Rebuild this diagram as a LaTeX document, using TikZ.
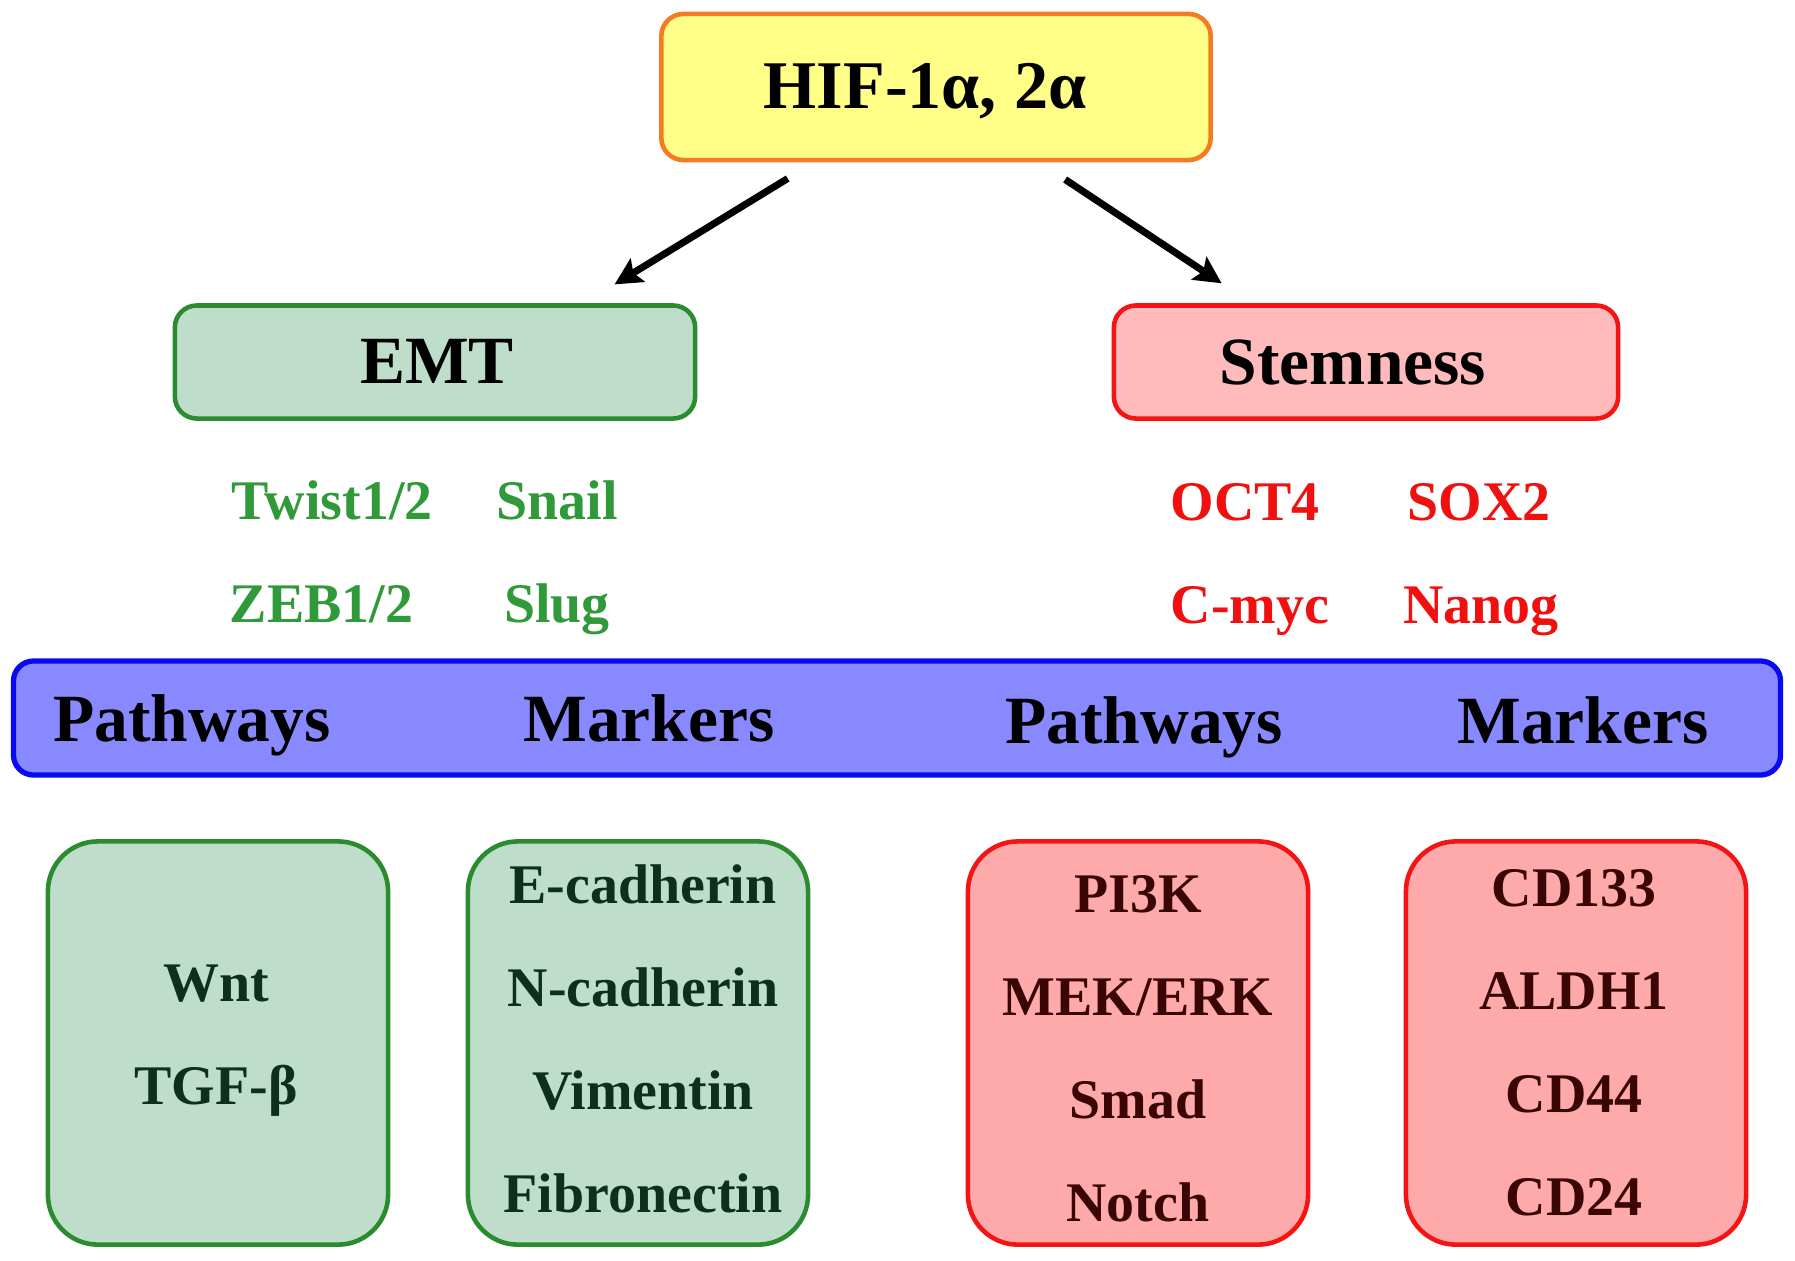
\documentclass[tikz,border=0pt]{standalone}
\usepackage{fontspec}
\setmainfont{Liberation Serif}
\usetikzlibrary{arrows.meta}
\definecolor{hiffill}{HTML}{FFFF88}
\definecolor{hifdraw}{HTML}{F57A22}
\definecolor{gfill}{HTML}{BFDDCB}
\definecolor{gdraw}{HTML}{2A8C2E}
\definecolor{gtext}{HTML}{309A3A}
\definecolor{gdark}{HTML}{0E2E1E}
\definecolor{sfill}{HTML}{FFBBBB}
\definecolor{rfill}{HTML}{FFAAAA}
\definecolor{rdraw}{HTML}{F41414}
\definecolor{rtext}{HTML}{F01010}
\definecolor{rdark}{HTML}{3A0505}
\definecolor{bfill}{HTML}{8888FF}
\definecolor{bdraw}{HTML}{0A0AF0}
\tikzset{
  box/.style={rounded corners=0.22cm, line width=1.3pt, inner sep=0pt},
  bigtxt/.style={font=\fontsize{19.2}{22}\selectfont\bfseries, anchor=base, inner sep=0pt},
  smalltxt/.style={font=\fontsize{15.9}{19}\selectfont\bfseries, anchor=base, inner sep=0pt},
  lowbox/.style={rounded corners=0.5cm, line width=1.3pt, minimum width=3.4cm, minimum height=4.03cm, inner sep=0pt},
  arr/.style={line width=2pt, -{Stealth[length=0.27cm, width=0.27cm, inset=0.05cm]}, shorten <=0.31cm, shorten >=0.36cm}
}
\begin{document}
\begin{tikzpicture}[x=0.01cm, y=-0.01cm]
\useasboundingbox (0,0) rectangle (1795,1260);
% top
\node[box, fill=hiffill, draw=hifdraw, minimum width=5.49cm, minimum height=1.46cm] (hif) at (936,87) {};
\node[bigtxt, font=\fontsize{19.4}{22}\selectfont\bfseries] (hiftxt) at (925,108) {HIF-1α, 2α};
% second level
\node[box, fill=gfill, draw=gdraw, minimum width=5.2cm, minimum height=1.13cm] (emt) at (435,362) {};
\node[bigtxt] (emttxt) at (437,383) {EMT};
\node[box, fill=sfill, draw=rdraw, minimum width=5.04cm, minimum height=1.13cm] (stem) at (1366,362) {};
\node[bigtxt] (stemtxt) at (1353,384) {Stemness};
% arrows
\draw[arr] ([xshift=1.55cm]hif.south west) -- ([xshift=4.11cm]emt.north west);
\draw[arr] ([xshift=3.80cm]hif.south west) -- ([xshift=1.40cm]stem.north west);
% transcription factors
\node[smalltxt, anchor=base west, text=gtext] (twist) at (231,519) {Twist1/2};
\node[smalltxt, text=gtext] (snail) at (557,519) {Snail};
\node[smalltxt, anchor=base west, text=gtext] (zeb) at (229,622) {ZEB1/2};
\node[smalltxt, text=gtext] (slug) at (557,622) {Slug};
\node[smalltxt, anchor=base west, text=rtext] (oct) at (1170,520) {OCT4};
\node[smalltxt, text=rtext] (sox) at (1479,520) {SOX2};
\node[smalltxt, anchor=base west, text=rtext] (myc) at (1170,623) {C-myc};
\node[smalltxt, text=rtext] (nanog) at (1481,623) {Nanog};
% bar
\node[box, rounded corners=0.2cm, fill=bfill, draw=bdraw, line width=1.5pt, minimum width=17.66cm, minimum height=1.14cm] (bar) at (897,718) {};
\node[bigtxt] (p1) at (192,741) {Pathways};
\node[bigtxt] (m1) at (649,741) {Markers};
\node[bigtxt] (p2) at (1144,743) {Pathways};
\node[bigtxt] (m2) at (1583,743) {Markers};
% bottom boxes
\node[lowbox, fill=gfill, draw=gdraw] (gb1) at (218,1043) {};
\node[lowbox, fill=gfill, draw=gdraw] (gb2) at (638,1043) {};
\node[lowbox, fill=rfill, draw=rdraw] (rb1) at (1138,1043) {};
\node[lowbox, fill=rfill, draw=rdraw] (rb2) at (1576,1043) {};
\node[smalltxt, text=gdark] (wnt) at (216,1001) {Wnt};
\node[smalltxt, text=gdark] (tgf) at (216,1104) {TGF-β};
\node[smalltxt, text=gdark] (ecad) at (643,903) {E-cadherin};
\node[smalltxt, text=gdark] (ncad) at (643,1006) {N-cadherin};
\node[smalltxt, text=gdark] (vim) at (643,1109) {Vimentin};
\node[smalltxt, text=gdark] (fib) at (643,1212) {Fibronectin};
\node[smalltxt, text=rdark] (pi3k) at (1138,912) {PI3K};
\node[smalltxt, text=rdark] (mek) at (1138,1015) {MEK/ERK};
\node[smalltxt, text=rdark] (smad) at (1138,1118) {Smad};
\node[smalltxt, text=rdark] (notch) at (1138,1221) {Notch};
\node[smalltxt, text=rdark] (cd133) at (1574,906) {CD133};
\node[smalltxt, text=rdark] (aldh) at (1574,1009) {ALDH1};
\node[smalltxt, text=rdark] (cd44) at (1574,1112) {CD44};
\node[smalltxt, text=rdark] (cd24) at (1574,1215) {CD24};
\end{tikzpicture}
\end{document}
